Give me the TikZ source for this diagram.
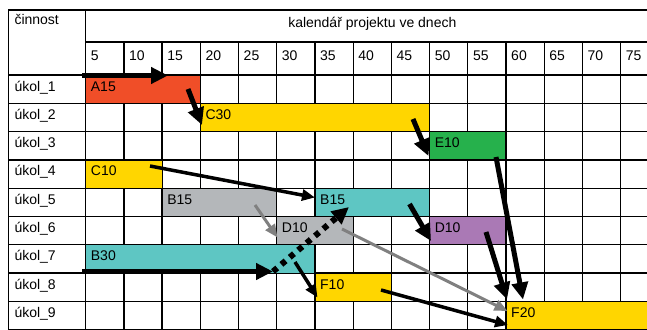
\documentclass[tikz,border=0pt]{standalone}
\usepackage{fontspec}
\setmainfont{Liberation Sans}
\usetikzlibrary{arrows.meta}

\definecolor{barred}{RGB}{240,78,40}
\definecolor{baryellow}{RGB}{255,214,0}
\definecolor{bargreen}{RGB}{38,177,76}
\definecolor{bargray}{RGB}{180,183,186}
\definecolor{barteal}{RGB}{94,198,195}
\definecolor{barpurple}{RGB}{170,121,181}
\definecolor{linkgray}{RGB}{128,128,128}

% column edge k and row edge r of the day grid
\newcommand\cx[1]{85.7+38.21*(#1)}
\newcommand\ry[1]{75+28.3*(#1)}

% \ganttbar{name}{colour}{first column}{last column}{row}{label}
\newcommand\ganttbar[6]{%
  \fill[#2] ({\cx{#3}+0.6},{\ry{#5}+0.6}) rectangle ({\cx{#4}-0.6},{\ry{#5+1}-0.6});
  \node[txt] (#1) at ({\cx{#3}+5},{\ry{#5}+16}) {#6};%
}

\begin{document}
\begin{tikzpicture}[x=1pt,y=-1pt,
  txt/.style={anchor=base west,inner sep=0pt,font=\fontsize{14}{16}\selectfont},
  gridline/.style={line width=1.3pt,line cap=rect},
  bigarrow/.style={line width=5pt,-{Triangle[length=17pt,width=16pt]}},
  slimarrow/.style={line width=3.5pt,-{Triangle[length=13pt,width=11pt]}},
  grayarrow/.style={line width=3pt,color=linkgray,-{Triangle[length=13pt,width=11pt]}},
  dotarrow/.style={line width=6pt,dash pattern=on 5.5pt off 5.5pt,-{Triangle[length=17pt,width=16pt]}}]

\useasboundingbox (0,0) rectangle (647,329);
\fill[white] (0,0) rectangle (647,329);

% table frame and grid
\draw[gridline] (8.7,331) -- (8.7,10) -- (660,10);
\draw[gridline] (85.7,10) -- (85.7,331);
\draw[gridline] (85.7,42) -- (660,42);
\foreach \k in {1,...,15} \draw[gridline] ({\cx{\k}},42) -- ({\cx{\k}},331);
\foreach \r in {0,...,9} \draw[gridline] (8.7,{\ry{\r}}) -- (660,{\ry{\r}});

% header
\node[txt] (hdrtask) at (14.3,25) {činnost};
\node[txt,anchor=base] (hdrcal) at ({(85.7+658.9)/2},27.3) {kalendář projektu ve dnech};
\foreach \k in {0,...,14} {
  \pgfmathtruncatemacro\day{5*(\k+1)}
  \node[txt] (day\day) at ({\cx{\k}+5},60) {\day};
}
\foreach \r in {1,...,9}
  \node[txt] (task\r) at (14.3,{\ry{\r-1}+16}) {úkol\_\r};

% bars
\ganttbar{A15}{barred}{0}{3}{0}{A15}
\ganttbar{C30}{baryellow}{3}{9}{1}{C30}
\ganttbar{E10}{bargreen}{9}{11}{2}{E10}
\ganttbar{C10}{baryellow}{0}{2}{3}{C10}
\ganttbar{B15a}{bargray}{2}{5}{4}{B15}
\ganttbar{B15b}{barteal}{6}{9}{4}{B15}
\ganttbar{D10a}{bargray}{5}{7}{5}{D10}
\ganttbar{D10b}{barpurple}{9}{11}{5}{D10}
\ganttbar{B30}{barteal}{0}{6}{6}{B30}
\ganttbar{F10}{baryellow}{6}{8}{7}{F10}
\ganttbar{F20}{baryellow}{11}{15}{8}{F20}

% link end points
\coordinate (a1s) at (82,75.5);    \coordinate (a1e) at (168,75.5);
\coordinate (a2s) at (188,89);     \coordinate (a2e) at (202,125);
\coordinate (a3s) at (413,119);    \coordinate (a3e) at (428.5,156);
\coordinate (a4s) at (150,166);    \coordinate (a4e) at (315,197.5);
\coordinate (a5s) at (496,157);    \coordinate (a5e) at (523,299.5);
\coordinate (a6s) at (486,232);    \coordinate (a6e) at (507,299.5);
\coordinate (a7s) at (409.5,204);  \coordinate (a7e) at (431,241);
\coordinate (g1s) at (255,205);    \coordinate (g1e) at (277.5,237.5);
\coordinate (g2s) at (342,229);    \coordinate (g2e) at (507.5,311);
\coordinate (b1s) at (82,271.5);   \coordinate (b1e) at (273,271.5);
\coordinate (b2e) at (349,207);
\coordinate (b3s) at (295,262);    \coordinate (b3e) at (317.5,297.5);
\coordinate (f1s) at (381,290);    \coordinate (f1e) at (508,325);

% links
\draw[grayarrow] (g1s) -- (g1e);
\draw[grayarrow] (g2s) -- (g2e);
\draw[bigarrow] (a1s) -- (a1e);
\draw[bigarrow] (a2s) -- (a2e);
\draw[bigarrow] (a3s) -- (a3e);
\draw[slimarrow] (a4s) -- (a4e);
\draw[bigarrow] (a5s) -- (a5e);
\draw[bigarrow] (a6s) -- (a6e);
\draw[bigarrow] (a7s) -- (a7e);
\draw[bigarrow,line width=4.7pt] (b1s) -- (b1e);
\draw[dotarrow] (b1e) -- (b2e);
\draw[slimarrow] (b3s) -- (b3e);
\draw[slimarrow] (f1s) -- (f1e);
\end{tikzpicture}
\end{document}
